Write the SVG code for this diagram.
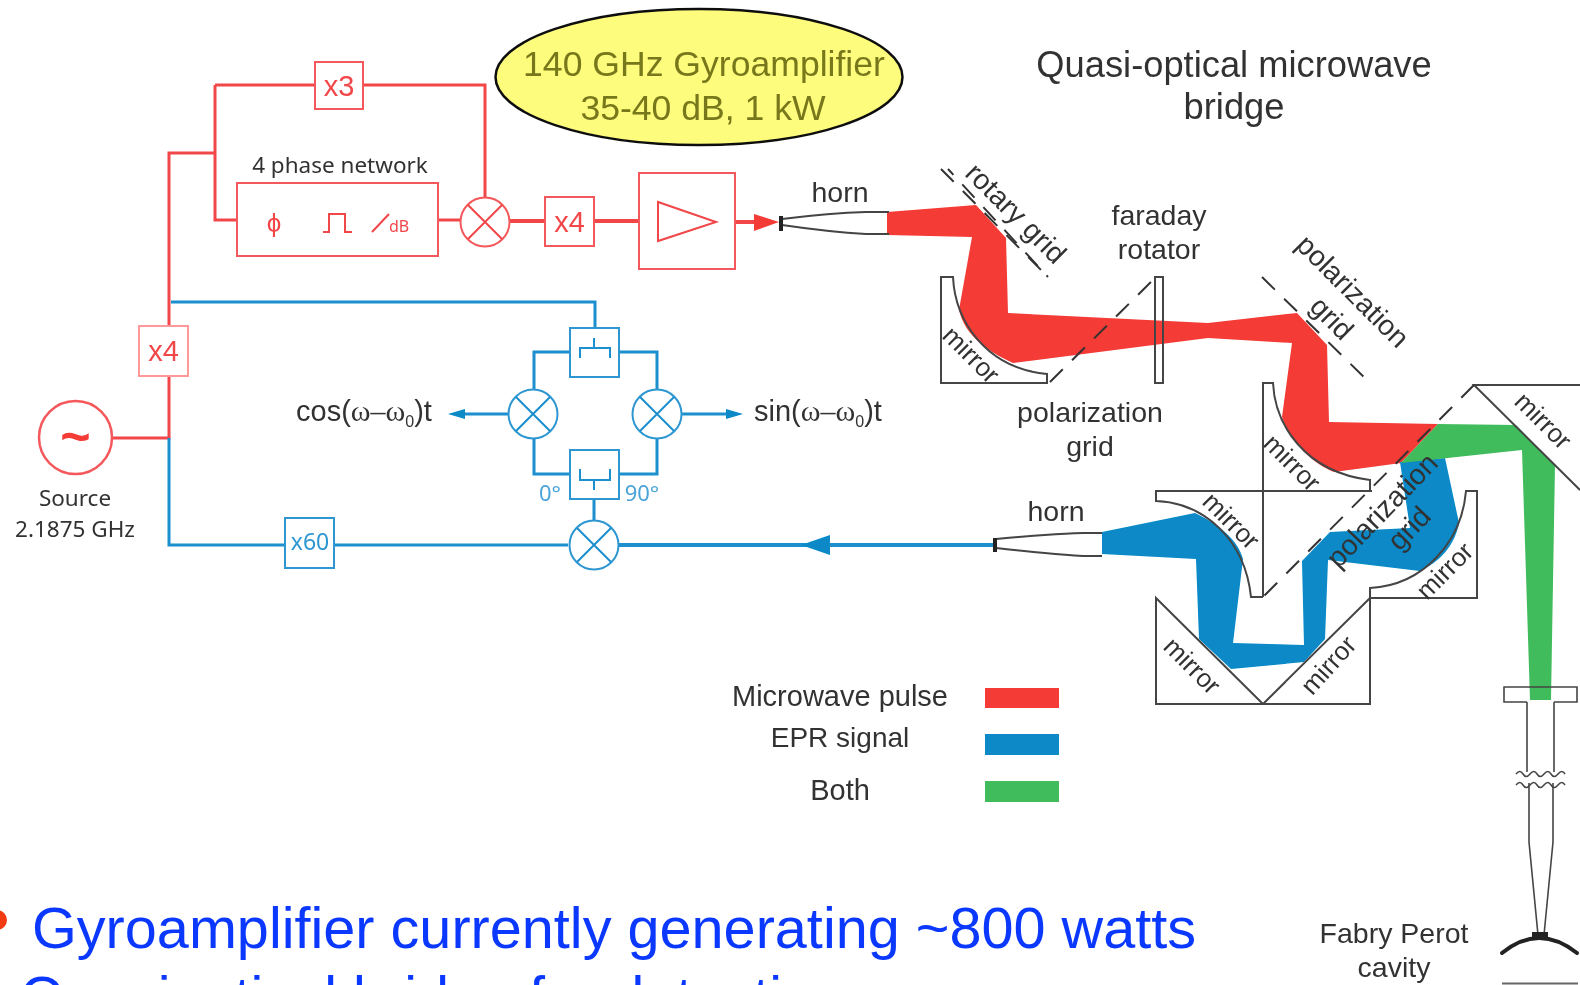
<svg xmlns="http://www.w3.org/2000/svg" width="1580" height="985" viewBox="0 0 1580 985">
<style>
text{font-family:"Liberation Sans",Arial,sans-serif;fill:#333}
.m{text-anchor:middle}
.l{font-size:28.5px}
.my{font-family:"Noto Sans","Open Sans",sans-serif}
.r{fill:none;stroke:#f2474a;stroke-width:3}
.rb{fill:#fff;stroke:#f4595b;stroke-width:2}
.b{fill:none;stroke:#1b8fcf;stroke-width:3}
.bb{fill:#fff;stroke:#2f97d2;stroke-width:2}
.k{fill:none;stroke:#444;stroke-width:2}
.d{fill:none;stroke:#333;stroke-width:2;stroke-dasharray:18 13}
.big{font-size:57.6px;fill:#0a38ff}
</style>
<defs><filter id="soft" x="0" y="0" width="100%" height="100%" filterUnits="userSpaceOnUse"><feGaussianBlur stdDeviation="0.5"/></filter></defs>
<rect width="1580" height="985" fill="#fff"/>
<g filter="url(#soft)">
<g id="beams">
<path id="beam-red" fill="#f43a35" d="M887 212L976 205L1006 238L1008 313L1208 323L1297 313L1327 345L1329 422L1438 424L1401 463L1334 472C1310 462 1290 440 1282 417L1292 343L1208 338L1013 363C985 350 965 335 959 310L972 237L887 235Z"/>
<path id="beam-blue" fill="#0789c8" d="M1400 462L1445 458L1459 523C1455 545 1440 562 1420 571L1328 560L1325 639L1304 662L1231 669L1199 639L1196 559L1102 554V532L1195 513C1220 525 1238 540 1243 559L1233 643L1304 645L1302 561L1330 532L1410 528Z"/>
<path id="beam-green" fill="#40bc5c" d="M1438 424L1516 425L1555 465L1551 700H1530L1522 450L1401 463Z"/>
</g>
<g id="connectors">
<path class="r" d="M112 438H169V153H215M215 85V220H237M215 85H315M363 85H485V197M438 220H461"/>
<path class="r" style="stroke-width:4" d="M509 221H545M594 221H639M735 222H756"/>
<path fill="#f43a35" d="M754 214L779 222L754 231Z"/>
<path class="b" d="M171 302H595V328M534 389V352H570M619 352H657V389M534 438V474H570M619 474H657V438M594 499V520M169 438V545H285M334 545H568"/>
<path class="b" style="stroke-width:4" d="M618 545H994"/>
<path class="b" d="M509 414H465M682 414H726"/>
<path fill="#0789c8" d="M465 409V419L448 414ZM726 409V419L743 414ZM830 535V555L801 545Z"/>
</g>
<g id="x3"><rect class="rb" x="315" y="62" width="48" height="47"/><text class="m" x="339" y="96" font-size="29" style="fill:#f2474a">x3</text></g>
<g id="phase-network"><rect class="rb" x="237" y="183" width="201" height="73"/>
<text class="m my" x="340" y="173" font-size="22.5">4 phase network</text>
<text class="m" x="274" y="232" font-size="26" style="fill:#f2474a">ϕ</text>
<path class="r" style="stroke-width:2" d="M323 232H329V214H345V232H352M372 232L389 214"/>
<text class="m my" x="399" y="232" font-size="16" style="fill:#f2474a">dB</text></g>
<g id="mixer-top"><circle class="rb" cx="485" cy="222" r="24.5"/><path class="r" style="stroke-width:2" d="M468 205L502 239M502 205L468 239"/></g>
<g id="x4-top"><rect class="rb" x="545" y="197" width="49" height="49"/><text class="m" x="569.5" y="232" font-size="29" style="fill:#f2474a">x4</text></g>
<g id="amp"><rect class="rb" x="639" y="173" width="96" height="96"/><path class="r" style="stroke-width:2" d="M658 202V241L716 222Z"/></g>
<g id="horn-top"><path class="k" d="M782 219Q830 213 866 212H889M782 225Q830 232 866 234H889"/><path stroke="#222" stroke-width="4" d="M781 216V231"/><text class="m l" x="840" y="202">horn</text></g>
<g id="x4-left"><rect x="139" y="326" width="49" height="50" fill="#fff" stroke="#f99" stroke-width="2"/><text class="m" x="163.500" y="361" font-size="29" style="fill:#f2474a">x4</text></g>
<g id="source"><circle cx="75.500" cy="437.500" r="36.500" fill="#fff" stroke="#f4595b" stroke-width="2.500"/>
<text class="m" x="75.500" y="454" font-size="52" font-weight="bold" style="fill:#f43a35">~</text>
<text class="m my" x="75" y="506" font-size="22.5">Source</text><text class="m my" x="75" y="537" font-size="22.5">2.1875 GHz</text></g>
<g id="x60"><rect class="bb" x="285" y="518" width="49" height="50"/><text class="m my" x="310" y="550" font-size="23" style="fill:#2f97d2">x60</text></g>
<g id="hybrid-top"><rect class="bb" x="570" y="328" width="49" height="49"/><path class="b" style="stroke-width:2" d="M580 358V348H610V358M594 338V348"/></g>
<g id="hybrid-bottom"><rect class="bb" x="570" y="450" width="49" height="49"/><path class="b" style="stroke-width:2" d="M580 469V480H610V469M594 480V490"/>
<text class="m my" x="550" y="501" font-size="22" style="fill:#4aa3d8">0°</text><text class="m my" x="642" y="501" font-size="22" style="fill:#4aa3d8">90°</text></g>
<g id="mixer-left"><circle class="bb" cx="533" cy="414" r="24.5"/><path class="b" style="stroke-width:2" d="M516 397L550 431M550 397L516 431"/></g>
<g id="mixer-right"><circle class="bb" cx="657" cy="414" r="24.5"/><path class="b" style="stroke-width:2" d="M640 397L674 431M674 397L640 431"/></g>
<g id="mixer-bottom"><circle class="bb" cx="594" cy="545" r="24.5"/><path class="b" style="stroke-width:2" d="M577 528L611 562M611 528L577 562"/></g>
<g id="outputs"><text x="296" y="421" font-size="29">cos(<tspan font-family="Liberation Serif" font-size="30">ω–ω</tspan><tspan font-size="16" dy="6">0</tspan><tspan dy="-6">)t</tspan></text>
<text x="754" y="421" font-size="29">sin(<tspan font-family="Liberation Serif" font-size="30">ω–ω</tspan><tspan font-size="16" dy="6">0</tspan><tspan dy="-6">)t</tspan></text></g>
<g id="gyroamplifier"><ellipse cx="699" cy="77" rx="203.500" ry="68" fill="#fdfc7d" stroke="#111" stroke-width="2.500"/>
<text class="m" x="704" y="76" font-size="35.6" style="fill:#77771a">140 GHz Gyroamplifier</text><text class="m" x="703" y="120" font-size="35.6" style="fill:#77771a">35-40 dB, 1 kW</text></g>
<g id="title"><text class="m" x="1234" y="77" font-size="36.3">Quasi-optical microwave</text><text class="m" x="1234" y="119" font-size="36.3">bridge</text></g>
<g id="rotary-grid"><path class="d" d="M941 169L1041 270"/><path class="d" stroke-dashoffset="10" d="M948 169L1048 277"/><text class="m l" transform="translate(1009 220) rotate(45)">rotary grid</text></g>
<g id="mirror-1"><path class="k" d="M941 277H953C955 320 985 368 1047 374V383H941Z"/><text class="m" font-size="26" transform="translate(965 361) rotate(45)">mirror</text></g>
<g id="faraday"><rect class="k" x="1155" y="277" width="8" height="106"/><text class="m l" x="1159" y="225">faraday</text><text class="m l" x="1159" y="259">rotator</text></g>
<g id="pol-grid-1"><path class="d" d="M1050 382L1156 277"/><text class="m l" x="1090" y="422">polarization</text><text class="m l" x="1090" y="456">grid</text></g>
<g id="pol-grid-2"><path class="d" d="M1262 277L1370 383"/><text class="m l" transform="translate(1346 298) rotate(45)">polarization</text><text class="m l" transform="translate(1325 325) rotate(45)">grid</text></g>
<g id="mirror-2"><path class="k" d="M1263 597V383H1273C1275 425 1305 472 1370 480V491"/><text class="m" font-size="26" transform="translate(1286 469) rotate(45)">mirror</text></g>
<g id="mirror-3"><path class="k" d="M1372 491H1156V501C1205 503 1245 540 1251 597H1263"/><text class="m" font-size="26" transform="translate(1225 527) rotate(45)">mirror</text></g>
<g id="mirror-4"><path class="k" d="M1466 491H1477V598H1370V588C1425 585 1462 540 1466 491Z"/><text class="m" font-size="26" transform="translate(1451 577) rotate(-45)">mirror</text></g>
<g id="mirror-5"><path class="k" d="M1580 385H1474L1580 490"/><text class="m" font-size="26" transform="translate(1537 427) rotate(45)">mirror</text></g>
<g id="mirror-6"><path class="k" d="M1156 598L1263 704H1156Z"/><text class="m" font-size="26" transform="translate(1186 672) rotate(45)">mirror</text></g>
<g id="mirror-7"><path class="k" d="M1370 598L1263 704H1370Z"/><text class="m" font-size="26" transform="translate(1335 671) rotate(-48)">mirror</text></g>
<g id="pol-grid-3"><path class="d" d="M1474 385L1263 597"/><text class="m l" transform="translate(1389 517) rotate(-46)">polarization</text><text class="m l" transform="translate(1416 535) rotate(-46)">grid</text></g>
<g id="horn-bottom"><path class="k" d="M996 539Q1050 534 1083 533H1102M1102 556H1083Q1050 554 996 548"/><path stroke="#222" stroke-width="4" d="M995 538V552"/><text class="m l" x="1056" y="521">horn</text></g>
<g id="legend"><text class="m" x="840" y="706" font-size="29">Microwave pulse</text><text class="m" x="840" y="747" font-size="28">EPR signal</text><text class="m" x="840" y="800" font-size="29">Both</text>
<rect x="985" y="688" width="74" height="20" fill="#f43a35"/><rect x="985" y="734" width="74" height="21" fill="#0789c8"/><rect x="985" y="781" width="74" height="21" fill="#40bc5c"/></g>
<g id="cavity"><path class="k" style="stroke-width:1.600" d="M1527 702H1504V687H1577V702H1554M1527 702V772M1554 702V772M1529 783V842L1538 935M1553 783V842L1544 935"/>
<path class="k" style="stroke-width:1.500" d="M1516 774q4-5 7 0t7 0t7 0t7 0t7 0t7 0t7 0M1516 785q4-5 7 0t7 0t7 0t7 0t7 0t7 0t7 0"/>
<path d="M1502 953Q1539 923 1577 953" fill="none" stroke="#222" stroke-width="4" stroke-linecap="round"/><rect x="1532" y="932" width="16" height="8" fill="#222"/>
<path d="M1502 983.500H1578" stroke="#666" stroke-width="2"/><text class="m l" x="1394" y="943">Fabry Perot</text><text class="m l" x="1394" y="977">cavity</text></g>
</g>
<g id="bullets"><circle cx="-3" cy="920" r="10" fill="#f33b12"/><text class="big" x="32" y="948" textLength="1164">Gyroamplifier currently generating ~800 watts</text><text class="big" x="20" y="1017">Quasioptical bridge for detection</text></g>
</svg>
